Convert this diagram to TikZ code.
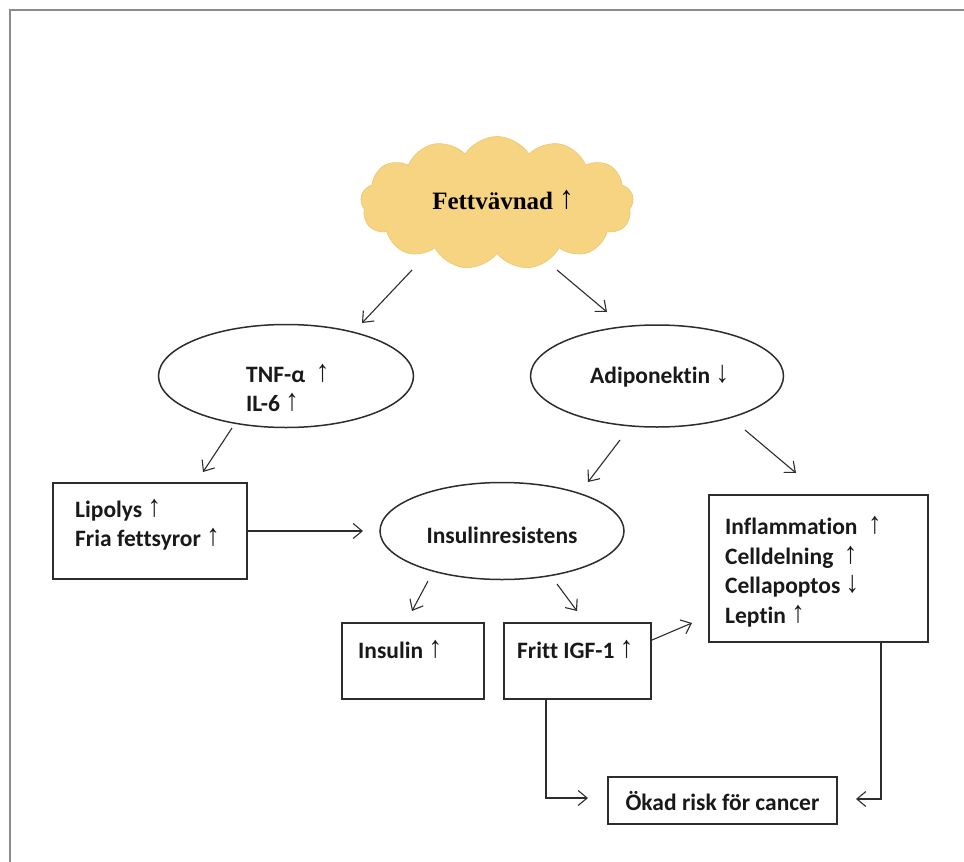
\documentclass[tikz,border=0pt]{standalone}
\usepackage{fontspec}
\usepackage{graphicx}
\setmainfont{Carlito}[Ligatures=NoCommon]
\newfontfamily\serifb{Liberation Serif}
\newfontfamily\arrf{Liberation Sans}
\usetikzlibrary{shapes.geometric,shapes.symbols,arrows.meta}
\definecolor{cloudfill}{RGB}{246,212,130}
\definecolor{cloudline}{RGB}{236,198,110}
\definecolor{ink}{RGB}{45,45,45}
\definecolor{framegray}{RGB}{140,140,140}
\newcommand{\upar}{\raisebox{1pt}{\scalebox{1.15}[1.3]{\arrf\mdseries\char"2191}}}
\newcommand{\dnar}{\raisebox{1pt}{\scalebox{1.15}[1.3]{\arrf\mdseries\char"2193}}}
\tikzset{
  x=1pt, y=-1pt,
  boxshape/.style={draw=ink, line width=1.7pt, rectangle, inner sep=0pt, outer sep=0pt},
  ellshape/.style={draw=ink, line width=1.5pt, ellipse, inner sep=0pt, outer sep=0pt},
  lbl/.style={font=\fontsize{23.5}{29.5}\selectfont\bfseries, text=black!90, inner sep=0pt, align=left},
  arr/.style={draw=ink, line width=1.1pt, -{Straight Barb[length=9pt,width=15pt,line width=1.1pt]}},
  conn/.style={draw=ink, line width=1.3pt, -{Straight Barb[length=9pt,width=15pt,line width=1.1pt]}}
}
\begin{document}
\begin{tikzpicture}
\useasboundingbox (0,0) rectangle (964,862);
\fill[white] (0,0) rectangle (964,862);
% frame (top and left edges visible)
\draw[framegray, line width=2pt] (10,862) -- (10,10) -- (964,10);

% cloud
\node[cloud, cloud puffs=13, cloud puff arc=115, aspect=2.05, fill=cloudfill, draw=cloudline, line width=0.6pt,
      minimum width=273pt, minimum height=133pt, inner sep=0pt] (cloud) at (497,203) {};
\node[font=\fontsize{25}{30}\selectfont\serifb\bfseries, inner sep=0pt] (cloudtxt) at (503,200) {Fettvävnad \upar};

% ellipses
\node[ellshape, minimum width=255pt, minimum height=103pt] (tnf) at (286,376) {};
\node[lbl, anchor=west] (tnftxt) at (246,388) {TNF-α \ \upar\\IL-6 \upar};
\node[ellshape, minimum width=253pt, minimum height=102pt] (adi) at (657,376) {};
\node[lbl, anchor=west] (aditxt) at (590,376) {Adiponektin \dnar};
\node[ellshape, minimum width=244pt, minimum height=97pt] (ins) at (502,531) {};
\node[lbl] (instxt) at (502,535) {Insulinresistens};

% boxes
\node[boxshape, minimum width=194pt, minimum height=96pt] (lip) at (150,531) {};
\node[lbl, anchor=west] (liptxt) at (75,525) {Lipolys \upar\\Fria fettsyror \upar};
\node[boxshape, minimum width=219pt, minimum height=147pt] (eff) at (818.5,568.5) {};
\node[lbl, anchor=west] (efftxt) at (725,572) {Inflammation \ \upar\\Celldelning \ \upar\\Cellapoptos \dnar\\Leptin \upar};
\node[boxshape, minimum width=142pt, minimum height=76pt] (insulin) at (413,661) {};
\node[lbl, anchor=west] (insulintxt) at (358,649) {Insulin \upar};
\node[boxshape, minimum width=147pt, minimum height=76pt] (fritt) at (577.5,661) {};
\node[lbl, anchor=west] (fritttxt) at (517,649) {Fritt IGF-1 \upar};
\node[boxshape, minimum width=229pt, minimum height=47pt] (okad) at (722.5,800.5) {};
\node[lbl] (okadtxt) at (722.5,801) {Ökad risk för cancer};

% arrow end points
\coordinate (a1s) at (412,270); \coordinate (a1e) at (362,323);
\coordinate (a2s) at (557,270); \coordinate (a2e) at (607,312);
\coordinate (a3s) at (232,428); \coordinate (a3e) at (203,472);
\coordinate (a4s) at (620,440); \coordinate (a4e) at (588,482);
\coordinate (a5s) at (745,430); \coordinate (a5e) at (796,473);
\coordinate (a6e) at (363,531);
\coordinate (a7s) at (428,581); \coordinate (a7e) at (412,611);
\coordinate (a8s) at (557,584); \coordinate (a8e) at (577,611);
\coordinate (a9s) at (652,640); \coordinate (a9e) at (692,623);
\coordinate (f1) at (546,699); \coordinate (f2) at (546,798); \coordinate (f3) at (588,798);
\coordinate (e1) at (881,642); \coordinate (e2) at (881,799); \coordinate (e3) at (856,799);

\draw[arr] (a1s) -- (a1e);
\draw[arr] (a2s) -- (a2e);
\draw[arr] (a3s) -- (a3e);
\draw[arr] (a4s) -- (a4e);
\draw[arr] (a5s) -- (a5e);
\draw[conn] (lip.east) -- (a6e);
\draw[arr] (a7s) -- (a7e);
\draw[arr] (a8s) -- (a8e);
\draw[arr] (a9s) -- (a9e);
\draw[conn] (f1) -- (f2) -- (f3);
\draw[conn] (e1) -- (e2) -- (e3);
\end{tikzpicture}
\end{document}
